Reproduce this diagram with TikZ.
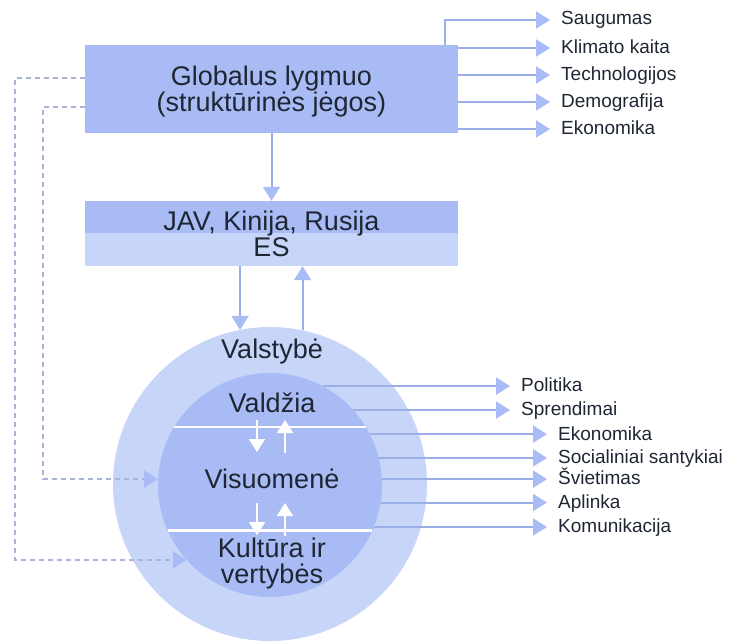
\documentclass[tikz,border=0pt]{standalone}
\usepackage{fontspec}
\setmainfont{Liberation Sans}
\usetikzlibrary{arrows.meta,positioning}
\definecolor{ink}{HTML}{1F2633}
\definecolor{boxblue}{HTML}{A8BBF4}
\definecolor{paleblue}{HTML}{C7D5F9}
\definecolor{lineblue}{HTML}{9CAEE8}
\definecolor{tipblue}{HTML}{A9BCF5}
\definecolor{dashgray}{HTML}{AAB5D5}
\tikzset{every node/.style={text=ink},
  bigtxt/.style={font=\fontsize{27}{26}\selectfont},
  level/.style={bigtxt,rectangle,fill=boxblue,minimum width=373pt,align=center,inner sep=0pt},
  ring/.style={circle,inner sep=0pt,outer sep=0pt},
  item/.style={font=\fontsize{19}{22}\selectfont,anchor=west,inner xsep=11pt,inner ysep=0pt,text height=14pt,text depth=4pt},
  feed/.style={-{Triangle[length=14pt,width=17pt,color=tipblue]},draw=lineblue,line width=2pt},
  dashlink/.style={-{Triangle[length=14pt,width=17pt,color=tipblue]},draw=dashgray,line width=1.6pt,dash pattern=on 5pt off 4pt},
  wharrow/.style={-{Triangle[length=13pt,width=16pt]},draw=white,line width=2pt},
  chord/.style={draw=white,line width=2.2pt}}
\begin{document}
\begin{tikzpicture}[x=1pt,y=-1pt]
\useasboundingbox (0,0) rectangle (730,642);
% global level and the powers
\node[level,minimum height=88pt,text depth=0pt] (glob) at (271.5,89) {Globalus lygmuo\\(struktūrinės jėgos)};
\node[level,fill=paleblue,minimum height=65pt,
  path picture={\fill[boxblue] (path picture bounding box.north west) rectangle ([yshift=33pt]path picture bounding box.south east);}]
  (jav) at (271.5,233.5) {JAV, Kinija, Rusija\\ES};
\foreach \n/\t/\y in {saug/Saugumas/20,klim/Klimato kaita/48,tech/Technologijos/75,demo/Demografija/102,ekon/Ekonomika/129}
  {\node[item] (\n) at (550,\y) {\t};}
\draw[feed] ([xshift=-13pt]glob.north east) |- (saug);
\foreach \n in {klim,tech,demo,ekon} {\draw[feed] (glob.east |- \n.west) -- (\n.west);}
\draw[feed] (glob) -- (jav);
% state and society
\node[ring,fill=paleblue,minimum size=314pt] (stat) at (270,484) {};
\node[ring,fill=boxblue,minimum size=224pt] (soc) at (270,485) {};
\draw[chord] (soc.31) -- (soc.149); \draw[chord] (soc.336) -- (soc.204);
\foreach \y in {420,503} {\draw[wharrow] (257,\y) -- ++(0,32); \draw[wharrow] (285,\y+33) -- ++(0,-33);}
\draw[feed] (jav.south -| stat.101) -- (stat.101);
\draw[feed] (stat.78) -- (stat.78 |- jav.south);
\node[bigtxt,anchor=base] (valst) at (272,358) {Valstybė};
\node[bigtxt,anchor=base] (vald) at (272,412) {Valdžia};
\node[bigtxt,anchor=base] (visu) at (272,488) {Visuomenė};
\node[bigtxt,align=center] (kult) at (272,563.5) {Kultūra ir\\vertybės};
\foreach \n/\t/\a/\x/\y in {pol/Politika/62/510/386,spr/Sprendimai/42/510/410,ek/Ekonomika/27/547/435,
  soci/Socialiniai santykiai/14/547/458,svie/Švietimas/3/547/479,apl/Aplinka/351/547/503,kom/Komunikacija/338/547/527}
  {\node[item] (\n) at (\x,\y) {\t}; \draw[feed] (soc.\a) -- (soc.\a -| \n.west);}
% feedback from the global level
\draw[dashlink] ([yshift=11pt]glob.west) -- ++(-70,0) |- (soc.222);
\draw[dashlink] ([yshift=-18pt]glob.west) -- ++(-42,0) |- (soc.177);
\end{tikzpicture}
\end{document}
